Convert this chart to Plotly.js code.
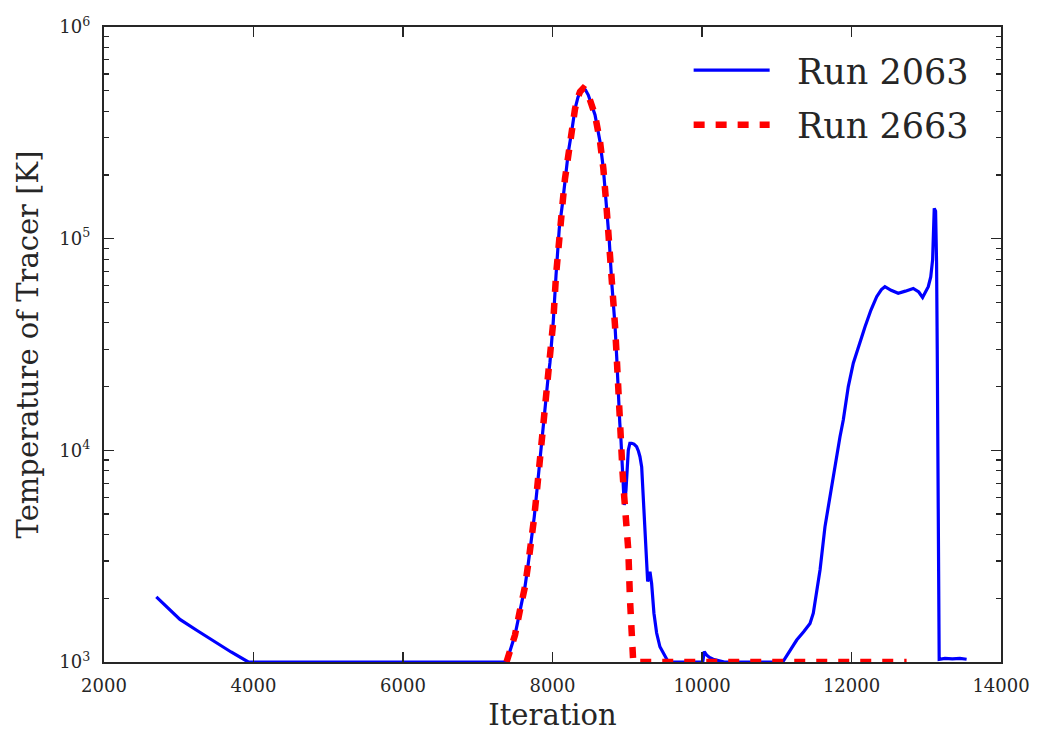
<!DOCTYPE html>
<html>
<head>
<meta charset="utf-8">
<script src="https://cdn.plot.ly/plotly-3.0.1.min.js"></script>
<style>
  html, body { margin: 0; padding: 0; background: #fff; }
  #chart { width: 1040px; height: 738px; }
</style>
</head>
<body>
<div id="chart"></div>
<script>
// Tracer temperature history for two runs
const run2063Iter = [
  2700, 2850, 3016, 3250, 3507, 3700, 3930,
  7385, 7498, 7565, 7632, 7676, 7721, 7756, 7788, 7819, 7846, 7877, 7908, 7935, 7966,
  8010, 8047, 8091, 8136, 8167, 8212, 8256, 8301, 8340, 8368, 8412, 8440, 8479, 8520, 8569, 8636, 8680,
  8724, 8760, 8792, 8814, 8836, 8858, 8880, 8900, 8916, 8938, 8960, 8983, 9014, 9035, 9059,
  9090, 9125, 9150, 9170, 9193, 9224, 9251, 9273, 9304, 9326, 9357, 9393, 9437, 9482, 9517, 9549,
  10010, 10030, 10060, 10100, 10150, 10250, 10300,
  11080, 11170, 11267, 11360, 11445, 11489, 11579, 11645, 11712, 11779, 11846, 11890, 11957, 12024,
  12100, 12181, 12260, 12337, 12400, 12447, 12530, 12625, 12720, 12826, 12900, 12951, 13027, 13060, 13085, 13107, 13125, 13138, 13147,
  13165, 13173, 13250, 13350, 13450, 13540
];
const run2063Temp = [
  2030, 1800, 1590, 1405, 1225, 1115, 1000,
  1000, 1340, 1760, 2270, 2920, 3770, 4850, 6260, 8070, 10400, 13900, 17900, 21000, 26000,
  40500, 67000, 112000, 149000, 192000, 257000, 320000, 410000, 465000, 494000, 513000, 505000, 477000, 435000, 384000, 287000, 215000,
  139000, 97000, 62500, 51000, 39000, 28000, 18000, 13500, 11200, 7780, 5520, 6490, 10000, 10800, 10800,
  10700, 10400, 9900, 9330, 8350, 4850, 3030, 2400, 2670, 2350, 1700, 1370, 1180, 1100, 1040, 1000,
  1000, 1120, 1080, 1050, 1030, 1005, 1000,
  1000, 1120, 1270, 1390, 1520, 1700, 2720, 4350, 6040, 8690, 11600, 13900, 20000, 25800,
  31500, 38400, 46000, 53200, 57500, 59300, 57000, 55200, 56500, 58200, 56000, 52800, 59300, 66000, 79300, 139000, 135000, 77000, 30000,
  2000, 1030, 1040, 1035, 1040, 1030
];

const run2663Iter = [
  7385, 7498, 7565, 7632, 7676, 7721, 7756, 7788, 7819, 7846, 7877, 7908, 7935, 7966,
  8010, 8047, 8091, 8136, 8167, 8212, 8256, 8301, 8340, 8368, 8412, 8440, 8479, 8520, 8569, 8636, 8680,
  8724, 8760, 8792, 8814, 8836, 8858, 8880, 8900, 8916, 8938, 8960, 8985, 9014, 9037,
  9059, 9080, 12737
];
const run2663Temp = [
  1000, 1340, 1760, 2270, 2920, 3770, 4850, 6260, 8070, 10400, 13900, 17900, 21000, 26000,
  40500, 67000, 112000, 149000, 192000, 257000, 320000, 410000, 465000, 494000, 513000, 505000, 477000, 435000, 384000, 287000, 215000,
  139000, 97000, 62500, 51000, 39000, 28000, 18000, 13500, 11200, 7780, 6000, 4600, 3380, 1960,
  1180, 1000, 1000
];

const xTicks = [2000, 4000, 6000, 8000, 10000, 12000, 14000];
const xTickText = ['2000', '4000', '6000', '8000', '10000', '12000', '14000'];
const yTicks = [1e3, 1e4, 1e5, 1e6];
const yTickText = ['10<sup>3</sup>', '10<sup>4</sup>', '10<sup>5</sup>', '10<sup>6</sup>'];

const ink = '#262626';
const pad = '\u00a0\u00a0';

// minor ticks at 2..9 within each decade
const yMinor = [];
for (let p = 3; p < 6; p++) {
  for (let k = 2; k <= 9; k++) yMinor.push(k * Math.pow(10, p));
}

const traces = [
  {
    x: run2063Iter, y: run2063Temp, name: pad + 'Run 2063', legendgroup: 'a',
    type: 'scatter', mode: 'lines',
    line: { color: '#0000ff', width: 3.2 }
  },
  {
    x: run2663Iter, y: run2663Temp, name: pad + 'Run 2663', legendgroup: 'b',
    type: 'scatter', mode: 'lines',
    line: { color: '#ff0000', width: 6.5, dash: '11px,11px' }
  }
];

const axisCommon = {
  showgrid: false, zeroline: false,
  showline: true, linecolor: ink, linewidth: 2.2, mirror: 'ticks',
  ticks: 'inside', ticklen: 10, tickwidth: 1.5, tickcolor: ink,
  tickfont: { family: 'DejaVu Serif', size: 18, color: ink }
};

const layout = {
  width: 1040, height: 738,
  margin: { l: 104, r: 39, t: 27, b: 76 },
  paper_bgcolor: '#ffffff', plot_bgcolor: '#ffffff',
  font: { family: 'DejaVu Serif', color: ink },
  showlegend: true,
  legend: {
    x: 0.9695, y: 0.978, xanchor: 'right', yanchor: 'top',
    bgcolor: 'rgba(0,0,0,0)', borderwidth: 0,
    traceorder: 'grouped', tracegroupgap: 6,
    font: { family: 'DejaVu Serif', size: 35, color: ink },
    itemwidth: 76
  },
  xaxis: Object.assign({}, axisCommon, {
    range: [2000, 14000],
    tickmode: 'array', tickvals: xTicks, ticktext: xTickText,
    ticklabelstandoff: 6,
    title: { text: 'Iteration', font: { family: 'DejaVu Serif', size: 29, color: ink }, standoff: 10 }
  }),
  yaxis: Object.assign({}, axisCommon, {
    type: 'log', range: [3, 6],
    tickmode: 'array', tickvals: yTicks, ticktext: yTickText,
    ticklabelstandoff: 8,
    minor: { tickmode: 'array', tickvals: yMinor, ticks: 'inside', ticklen: 5, tickwidth: 1.2, tickcolor: ink, showgrid: false },
    title: { text: 'Temperature of Tracer [K]', font: { family: 'DejaVu Serif', size: 29, color: ink }, standoff: 12 }
  })
};

Plotly.newPlot('chart', traces, layout, { displayModeBar: false, staticPlot: true });
</script>
</body>
</html>
